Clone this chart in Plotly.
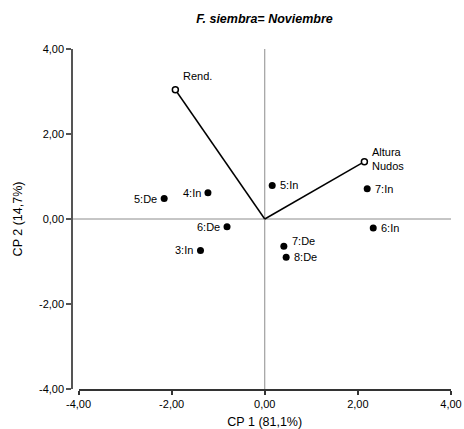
import plotly.graph_objects as go

# Observations (scores)
obs_labels = ["5:De", "4:In", "5:In", "7:In", "6:De", "6:In", "3:In", "7:De", "8:De"]
obs_x = [-2.16, -1.22, 0.16, 2.20, -0.81, 2.33, -1.38, 0.41, 0.46]
obs_y = [0.48, 0.62, 0.79, 0.71, -0.18, -0.21, -0.74, -0.64, -0.90]
obs_side = ["left", "left", "right", "right", "left", "right", "left", "right", "right"]
obs_dy = [0, 0, 0, 0, 0, 0, 0, 5, 0]

# Variables (loadings)
var_labels = ["Rend.", "Altura<br>Nudos"]
var_x = [-1.92, 2.14]
var_y = [3.04, 1.35]
var_dy = [14, 3]

tick_vals = [-4, -2, 0, 2, 4]
tick_text = ["-4,00", "-2,00", "0,00", "2,00", "4,00"]

FONT = "Liberation Sans, Arial, sans-serif"

fig = go.Figure()

# vectors
for vx, vy in zip(var_x, var_y):
    fig.add_trace(go.Scatter(x=[0, vx], y=[0, vy], mode="lines",
                             line=dict(color="black", width=1.5),
                             hoverinfo="skip", showlegend=False))

fig.add_trace(go.Scatter(x=var_x, y=var_y, mode="markers",
                         marker=dict(size=6, color="white", symbol="circle",
                                     line=dict(color="black", width=1.5)),
                         showlegend=False))

fig.add_trace(go.Scatter(x=obs_x, y=obs_y, mode="markers",
                         marker=dict(size=7, color="black"),
                         showlegend=False))

for t, x, y, s, dy in zip(obs_labels, obs_x, obs_y, obs_side, obs_dy):
    fig.add_annotation(x=x, y=y, text=t, showarrow=False,
                       xanchor="right" if s == "left" else "left", yanchor="middle",
                       xshift=-5 if s == "left" else 6, yshift=dy,
                       font=dict(family=FONT, size=11, color="black"))

for t, x, y, dy in zip(var_labels, var_x, var_y, var_dy):
    fig.add_annotation(x=x, y=y, text=t, showarrow=False, align="left",
                       xanchor="left", yanchor="middle", xshift=6, yshift=dy,
                       font=dict(family=FONT, size=11, color="black"))

# zero reference lines
fig.add_shape(type="line", xref="paper", yref="y", x0=0, x1=1, y0=0, y1=0,
              line=dict(color="#8c8c8c", width=1), layer="below")
fig.add_shape(type="line", xref="x", yref="paper", x0=0, x1=0, y0=0, y1=1,
              line=dict(color="#8c8c8c", width=1), layer="below")

L, R = 72, 13
plot_w = 464 - L - R
fig.update_layout(
    width=464, height=429,
    margin=dict(l=L, r=R, t=49, b=40, pad=0, autoexpand=False),
    paper_bgcolor="white", plot_bgcolor="white",
    font=dict(family=FONT, size=11, color="black"),
    title=dict(text="<b><i>F. siembra= Noviembre</i></b>", x=264.5 / 464, xanchor="center",
               y=1 - 19 / 429, yanchor="middle",
               font=dict(family=FONT, size=12.5, color="black")),
    xaxis=dict(domain=[6.5 / plot_w, 1], range=[-4, 4], tickvals=tick_vals, ticktext=tick_text,
               showgrid=False, zeroline=False, showline=True, linecolor="#333333", linewidth=1.5,
               ticks="outside", ticklen=4, tickcolor="#333333", tickwidth=1.5, automargin=False,
               title=dict(text="CP 1 (81,1%)", standoff=9, font=dict(size=12.5)),
               tickfont=dict(size=11)),
    yaxis=dict(range=[-4, 4], tickvals=tick_vals, ticktext=tick_text, anchor="free", position=0,
               showgrid=False, zeroline=False, showline=True, linecolor="#555555", linewidth=1.5,
               ticks="outside", ticklen=5, tickcolor="#555555", tickwidth=1.5, automargin=False,
               title=dict(text="CP 2 (14,7%)", standoff=13, font=dict(size=12.5)),
               tickfont=dict(size=11)),
)

fig.write_html("out.html")
